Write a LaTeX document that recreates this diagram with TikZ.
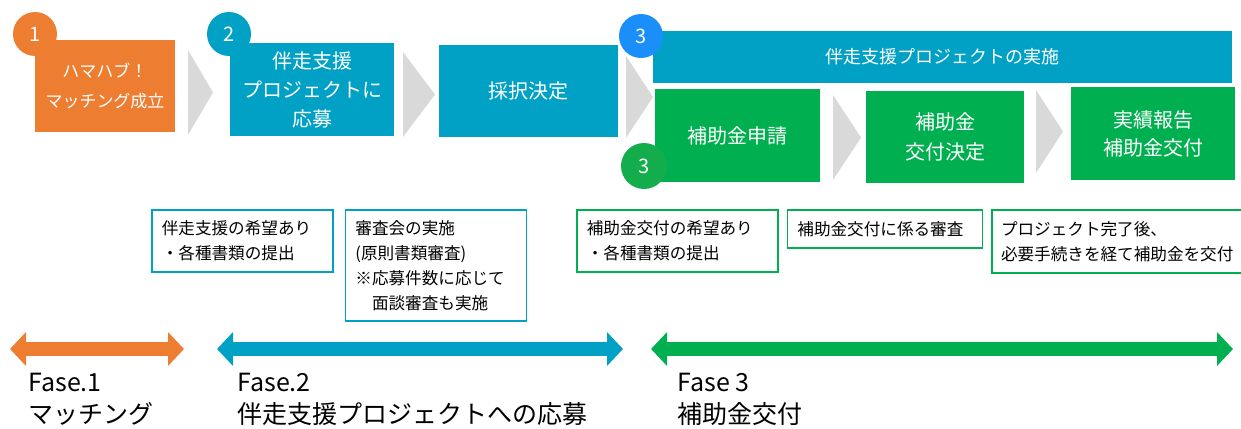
\documentclass[tikz,border=0pt]{standalone}
\usepackage{fontspec}
\setmainfont{Noto Sans CJK JP}
\usepackage{xcolor}
\definecolor{colorOrange}{HTML}{ED7D31}
\definecolor{colorBlue}{HTML}{00A1C4}
\definecolor{colorSky}{HTML}{1A8FFA}
\definecolor{colorGreen}{HTML}{00B050}
\definecolor{colorGreenDot}{HTML}{14AD4C}
\definecolor{colorChevron}{HTML}{D9D9D9}
\usetikzlibrary{arrows.meta, positioning}
\tikzset{
  stepbox/.style={fill=#1, text=white, inner sep=0pt, align=center, font=\fontsize{10}{14.5}\selectfont},
  numdot/.style={circle, fill=#1, text=white, minimum size=22pt, inner sep=0pt, font=\fontsize{10}{12}\selectfont},
  notebox/.style={draw=#1, line width=0.8pt, fill=white, inner xsep=5pt, inner ysep=0pt, align=left, anchor=north west, font=\fontsize{8.3}{12.5}\selectfont},
  fasearrow/.style={draw=#1, line width=7pt, arrows={Triangle[width=16.5pt,length=8pt]-Triangle[width=16.5pt,length=8pt]}},
  faselabel/.style={anchor=west, align=left, inner sep=0pt, font=\fontsize{12.5}{16}\selectfont},
  chevron/.style={fill=colorChevron}
}
\begin{document}
\begin{tikzpicture}[x=0.5pt, y=-0.5pt]
\useasboundingbox (0,0) rectangle (1241,428);
\foreach \xa/\xb/\ya/\yb in {188/213/50/135, 403/435/52/137, 626/653/56/138, 833/861/95/180, 1036/1063/90/173}
  \fill[chevron] (\xa,\ya) -- (\xb,{(\ya+\yb)/2}) -- (\xa,\yb) -- cycle;

\node[stepbox=colorOrange, minimum width=70pt, minimum height=46pt, font=\fontsize{8.5}{15}\selectfont] (match) at (105,86) {ハマハブ！\\マッチング成立};
\node[stepbox=colorBlue, minimum width=82pt, minimum height=46.5pt] (apply) at (312,89.5) {伴走支援\\プロジェクトに\\応募};
\node[stepbox=colorBlue, minimum width=89.5pt, minimum height=46pt] (adopt) at (528.5,91) {採択決定};
\node[stepbox=colorBlue, minimum width=289.5pt, minimum height=26pt, font=\fontsize{9}{12}\selectfont] (run) at (942.5,57) {伴走支援プロジェクトの実施};
\node[stepbox=colorGreen, minimum width=82.5pt, minimum height=46.5pt] (request) at (737.5,135.5) {補助金申請};
\node[stepbox=colorGreen, minimum width=79pt, minimum height=46pt, font=\fontsize{10}{15}\selectfont] (grant) at (945,137) {補助金\\交付決定};
\node[stepbox=colorGreen, minimum width=82pt, minimum height=46.5pt, font=\fontsize{10}{14}\selectfont] (report) at (1153,133.5) {実績報告\\補助金交付};

\node[numdot=colorOrange] (n1) at (35,34) {1};
\node[numdot=colorBlue] (n2) at (229,34) {2};
\node[numdot=colorSky] (n3) at (641,36) {3};
\node[numdot=colorGreenDot, minimum size=23pt] (n3b) at (644,166) {3};

\node[notebox=colorBlue, text width=80.5pt, minimum height=31pt] (noteA) at (151,209) {伴走支援の希望あり\\・各種書類の提出};
\node[notebox=colorBlue, text width=80.5pt, minimum height=55.5pt, right=5.5pt of noteA.north east, anchor=north west] (noteB) {審査会の実施\\(原則書類審査)\\※応募件数に応じて\\\hspace*{1em}面談審査も実施};
\node[notebox=colorGreen, text width=90.5pt, minimum height=31pt] (noteC) at (576,209) {補助金交付の希望あり\\・各種書類の提出};
\node[notebox=colorGreen, text width=87.5pt, minimum height=19pt, right=4pt of noteC.north east, anchor=north west] (noteD) {補助金交付に係る審査};
\node[notebox=colorGreen, text width=116pt, minimum height=31.5pt, inner xsep=4.5pt, right=4pt of noteD.north east, anchor=north west] (noteE) {プロジェクト完了後、\\必要手続きを経て補助金を交付};

\coordinate (o1) at (10,349);
\coordinate (o2) at (184,349);
\coordinate (b1) at (217,349);
\coordinate (b2) at (623,349);
\coordinate (g1) at (651,349);
\coordinate (g2) at (1233,349);
\draw[fasearrow=colorOrange] (o1) -- (o2);
\draw[fasearrow=colorBlue] (b1) -- (b2);
\draw[fasearrow=colorGreen] (g1) -- (g2);

\node[faselabel] (fase1) at (28,399) {Fase.1\\マッチング};
\node[faselabel] (fase2) at (237,399) {Fase.2\\伴走支援プロジェクトへの応募};
\node[faselabel] (fase3) at (677,399) {Fase 3\\補助金交付};
\end{tikzpicture}
\end{document}
